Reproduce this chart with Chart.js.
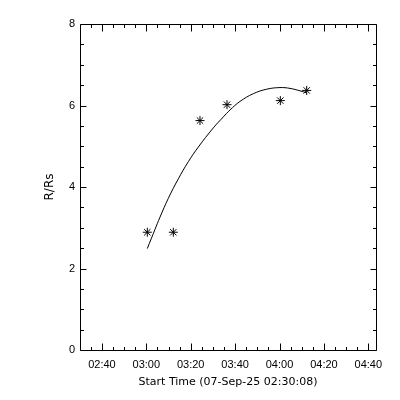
<!DOCTYPE html>
<html>
<head>
<meta charset="utf-8">
<script src="https://cdn.jsdelivr.net/npm/chart.js@4"></script>
<style>
  body { margin: 0; background: #fff; }
  #chart { display: block; }
</style>
</head>
<body>
<canvas id="chart" width="400" height="400"></canvas>
<script>
// start time of the x axis, seconds after midnight
const startLabel = '07-Sep-25 02:30:08';
const startSec = 2 * 3600 + 30 * 60 + 8;

// measured heights (seconds after start time)
const obsSec = [1819, 2522, 3243, 3973, 5414, 6127];
const obsR = [2.89, 2.89, 5.63, 6.02, 6.12, 6.37];

// fitted curve
const fitSec = [1819, 2027, 2162, 2386, 2657, 2927, 3197, 3603, 3873, 4054, 4324, 4684, 5046, 5405, 5676, 5946, 6127];
const fitR = [2.49, 2.96, 3.26, 3.72, 4.20, 4.62, 4.98, 5.45, 5.72, 5.89, 6.10, 6.29, 6.40, 6.44, 6.42, 6.36, 6.31];

// tick labels on the time axis
const xTickLabels = ['02:40', '03:00', '03:20', '03:40', '04:00', '04:20', '04:40'];
const yTicks = [0, 2, 4, 6, 8];

function labelToSec(lbl) {
    const p = lbl.split(':');
    return (+p[0]) * 3600 + (+p[1]) * 60 - startSec;
}
const xMajorSec = xTickLabels.map(labelToSec);

const tickFont = { family: 'Liberation Sans', size: 11 };
const titleFont = { family: 'DejaVu Sans', size: 11 };

// box round the plot with inward ticks on all four sides (IDL style)
const boxTicks = {
    id: 'boxTicks',
    afterDraw(chart) {
        const { ctx, chartArea: a, scales: { x, y } } = chart;
        const L = Math.round(a.left) + 0.5, R = Math.round(a.right) + 0.5;
        const T = Math.round(a.top) + 0.5, B = Math.round(a.bottom) + 0.5;
        ctx.save();
        ctx.strokeStyle = '#000';
        ctx.lineWidth = 1;
        ctx.beginPath();
        ctx.rect(L, T, R - L, B - T);

        // x ticks: major every 20 min, minor every 5 min
        for (let v = xMajorSec[0] - 300; v <= x.max; v += 300) {
            if (v < x.min) continue;
            const px = Math.round(x.getPixelForValue(v)) + 0.5;
            const major = xMajorSec.includes(v);
            const len = major ? 7 : 3.5;
            ctx.moveTo(px, B); ctx.lineTo(px, B - len);
            ctx.moveTo(px, T); ctx.lineTo(px, T + len);
        }
        // y ticks: major every 2, minor every 0.5
        for (let v = y.min; v <= y.max + 1e-9; v += 0.5) {
            const py = Math.round(y.getPixelForValue(v)) + 0.5;
            const major = yTicks.includes(v);
            const len = major ? 6 : 3.5;
            ctx.moveTo(L, py); ctx.lineTo(L + len, py);
            ctx.moveTo(R, py); ctx.lineTo(R - len, py);
        }
        ctx.stroke();
        ctx.restore();
    }
};

new Chart(document.getElementById('chart'), {
    type: 'scatter',
    data: {
        datasets: [{
            data: fitSec.map((s, i) => ({ x: s, y: fitR[i] })),
            showLine: true,
            borderColor: '#000',
            borderWidth: 1,
            pointRadius: 0,
            tension: 0.4
        }, {
            data: obsSec.map((s, i) => ({ x: s, y: obsR[i] })),
            showLine: false,
            pointStyle: 'star',
            pointRadius: 4.5,
            borderColor: '#000',
            backgroundColor: '#000',
            borderWidth: 1
        }]
    },
    options: {
        responsive: false,
        animation: false,
        layout: { padding: { left: 0, right: 24, top: 24, bottom: 0 } },
        plugins: {
            legend: { display: false },
            tooltip: { enabled: false }
        },
        scales: {
            x: {
                type: 'linear',
                min: 0,
                max: 8000,
                grid: { display: false, drawTicks: false },
                border: { display: false },
                afterBuildTicks: function(scale) {
                    scale.ticks = xMajorSec.map(v => ({ value: v }));
                },
                afterFit: function(scale) {
                    scale.height = 50;
                },
                ticks: {
                    color: '#000',
                    font: tickFont,
                    padding: 8,
                    maxRotation: 0,
                    autoSkip: false,
                    callback: function(value) {
                        return xTickLabels[xMajorSec.indexOf(value)];
                    }
                },
                title: {
                    display: true,
                    text: 'Start Time (' + startLabel + ')',
                    color: '#000',
                    font: titleFont,
                    padding: { top: 0, bottom: 11 }
                }
            },
            y: {
                min: 0,
                max: 8,
                grid: { display: false, drawTicks: false },
                border: { display: false },
                afterBuildTicks: function(scale) {
                    scale.ticks = yTicks.map(v => ({ value: v }));
                },
                afterFit: function(scale) {
                    scale.width = 80;
                },
                ticks: {
                    color: '#000',
                    font: tickFont,
                    padding: 5
                },
                title: {
                    display: true,
                    text: 'R/Rs',
                    color: '#000',
                    font: { family: 'DejaVu Sans', size: 12 },
                    padding: { top: 43, bottom: 0 }
                }
            }
        }
    },
    plugins: [boxTicks]
});
</script>
</body>
</html>
